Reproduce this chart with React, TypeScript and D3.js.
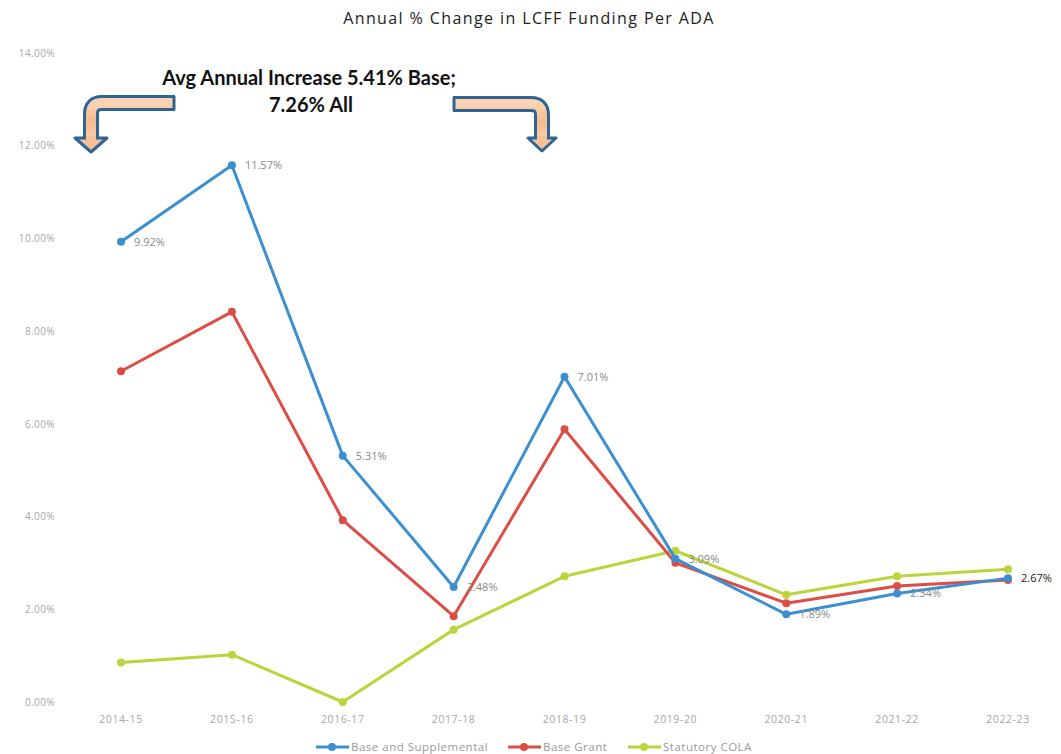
import React from "react";
import * as d3 from "d3";

const categories = ["2014-15", "2015-16", "2016-17", "2017-18", "2018-19", "2019-20", "2020-21", "2021-22", "2022-23"];
const baseAndSupplemental = [9.92, 11.57, 5.31, 2.48, 7.01, 3.09, 1.89, 2.34, 2.67];
const baseGrant = [7.13, 8.41, 3.92, 1.85, 5.88, 3.0, 2.13, 2.5, 2.63];
const statutoryCola = [0.85, 1.02, 0.0, 1.56, 2.71, 3.26, 2.31, 2.71, 2.86];
const yTicks = [0, 2, 4, 6, 8, 10, 12, 14];

const series = [
  { name: "Base and Supplemental", values: baseAndSupplemental, color: "#3c8fd0" },
  { name: "Base Grant", values: baseGrant, color: "#dc4d45" },
  { name: "Statutory COLA", values: statutoryCola, color: "#bcd43c" },
];

const W = 1061;
const H = 754;

export default function App() {
  const x = d3.scalePoint<string>().domain(categories).range([121, 1008]);
  const y = d3.scaleLinear().domain([0, 14]).range([702, 52.5]);
  const line = d3
    .line<number>()
    .x((_, i) => x(categories[i]) as number)
    .y((d) => y(d));
  const font = "'Open Sans', sans-serif";
  const order = [2, 1, 0];

  return (
    <svg
      width={W}
      height={H}
      style={{ position: "absolute", left: 0, top: 0, background: "#fff" }}
    >
      <defs>
        <linearGradient id="arrowFill" x1="0" y1="0" x2="0" y2="1">
          <stop offset="0" stopColor="#f9d3b3" />
          <stop offset="0.5" stopColor="#f6b98c" />
          <stop offset="1" stopColor="#f9d3b3" />
        </linearGradient>
      </defs>
      <text
        x={529}
        y={24}
        textAnchor="middle"
        fontFamily={font}
        fontSize={16}
        letterSpacing={1.4}
        fill="#222"
      >
        Annual % Change in LCFF Funding Per ADA
      </text>

      {yTicks.map((t) => (
        <text
          key={t}
          x={55}
          y={y(t) + 4}
          textAnchor="end"
          fontFamily={font}
          fontSize={10}
          letterSpacing={0.4}
          fill="#a6a6a6"
        >
          {t.toFixed(2)}%
        </text>
      ))}
      {categories.map((c) => (
        <text
          key={c}
          x={x(c)}
          y={723}
          textAnchor="middle"
          fontFamily={font}
          fontSize={10.5}
          letterSpacing={0.6}
          fill="#a6a6a6"
        >
          {c}
        </text>
      ))}

      {order.map((si) => {
        const s = series[si];
        return (
          <g key={s.name}>
            <path d={line(s.values) || ""} fill="none" stroke={s.color} strokeWidth={3} strokeLinejoin="round" />
            {s.values.map((v, i) => (
              <circle key={i} cx={x(categories[i])} cy={y(v)} r={4} fill={s.color} />
            ))}
          </g>
        );
      })}

      {baseAndSupplemental.map((v, i) => (
        <text
          key={i}
          x={(x(categories[i]) as number) + 13}
          y={y(v) + 4}
          fontFamily={font}
          fontSize={11}
          fill={i === categories.length - 1 ? "#222" : "#888"}
        >
          {v.toFixed(2)}%
        </text>
      ))}

      {/* legend */}
      {series.map((s, i) => {
        const lx = [316, 508, 628][i];
        return (
          <g key={s.name}>
            <line x1={lx} x2={lx + 33} y1={747} y2={747} stroke={s.color} strokeWidth={3} />
            <circle cx={lx + 16} cy={747} r={4} fill={s.color} />
            <text x={lx + 35} y={751} fontFamily={font} fontSize={11.5} letterSpacing={0.5} fill="#999">
              {s.name}
            </text>
          </g>
        );
      })}

      {/* annotation */}
      <text x={309} y={85} textAnchor="middle" fontFamily="Lato, sans-serif" fontWeight="bold" fontSize={20} fill="#111">
        Avg Annual Increase 5.41% Base;
      </text>
      <text x={311} y={112} textAnchor="middle" fontFamily="Lato, sans-serif" fontWeight="bold" fontSize={20} fill="#111">
        7.26% All
      </text>

      {/* left bent arrow */}
      <path d="M175,103 L102,103 Q91,103 91,114 L91,139" fill="none" stroke="#2f6594" strokeWidth={16} />
      <path d="M175,103 L102,103 Q91,103 91,114 L91,141" fill="none" stroke="url(#arrowFill)" strokeWidth={10} />
      <path d="M174,96 L174,110" stroke="#2f6594" strokeWidth={3} />
      <polygon points="75,138 107,138 91,152" fill="#f6bf96" stroke="#2f6594" strokeWidth={3} strokeLinejoin="round" />
      <line x1={86} x2={96} y1={138} y2={138} stroke="#f6bf96" strokeWidth={4} />

      {/* right bent arrow */}
      <path d="M453,104 L531,104 Q542,104 542,115 L542,139" fill="none" stroke="#2f6594" strokeWidth={16} />
      <path d="M453,104 L531,104 Q542,104 542,115 L542,141" fill="none" stroke="url(#arrowFill)" strokeWidth={10} />
      <path d="M454,97 L454,111" stroke="#2f6594" strokeWidth={3} />
      <polygon points="528,138 556,138 542,151" fill="#f6bf96" stroke="#2f6594" strokeWidth={3} strokeLinejoin="round" />
      <line x1={537} x2={547} y1={138} y2={138} stroke="#f6bf96" strokeWidth={4} />
    </svg>
  );
}
